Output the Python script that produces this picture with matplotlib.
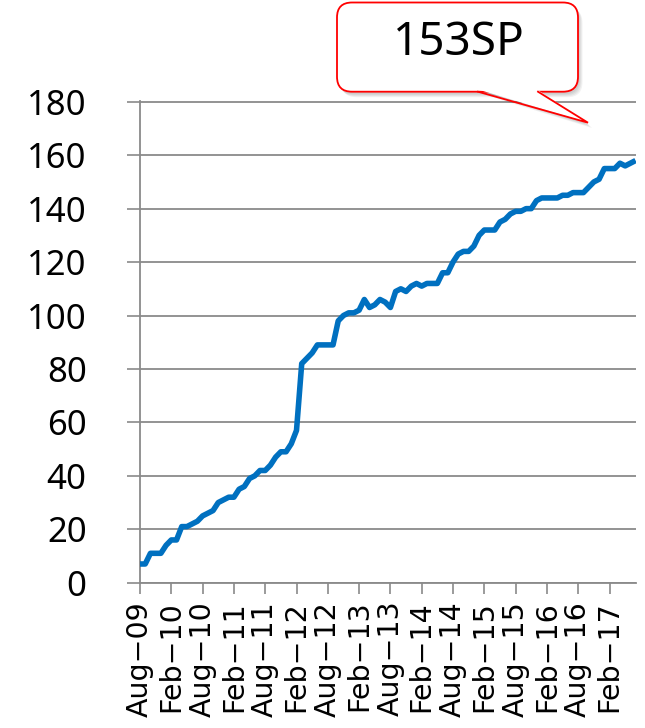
import matplotlib
matplotlib.use("Agg")
import matplotlib.pyplot as plt
from matplotlib.patches import FancyBboxPatch, Polygon
import numpy as np

# ---- data (monthly, Aug-09 .. Jul-17) ----
values = [7, 7, 11, 11, 11, 14, 16, 16, 21, 21,
          22, 23, 25, 26, 27, 30, 31, 32, 32, 35,
          36, 39, 40, 42, 42, 44, 47, 49, 49, 52,
          57, 82, 84, 86, 89, 89, 89, 89, 98, 100,
          101, 101, 102, 106, 103, 104, 106, 105, 103, 109,
          110, 109, 111, 112, 111, 112, 112, 112, 116, 116,
          120, 123, 124, 124, 126, 130, 132, 132, 132, 135,
          136, 138, 139, 139, 140, 140, 143, 144, 144, 144,
          144, 145, 145, 146, 146, 146, 148, 150, 151, 155,
          155, 155, 157, 156, 157, 158]
tick_labels = ["Aug\u221209", "Feb\u221210", "Aug\u221210", "Feb\u221211",
               "Aug\u221211", "Feb\u221212", "Aug\u221212", "Feb\u221213",
               "Aug\u221213", "Feb\u221214", "Aug\u221214", "Feb\u221215",
               "Aug\u221215", "Feb\u221216", "Aug\u221216", "Feb\u221217"]
y_ticks = [0, 20, 40, 60, 80, 100, 120, 140, 160, 180]
callout_text = "153SP"

months = np.arange(len(values))
tick_pos = np.arange(0, 6 * len(tick_labels), 6)

W, H = 645, 728
fig = plt.figure(figsize=(W / 100, H / 100), dpi=100)
fig.patch.set_facecolor("white")

ax = fig.add_axes([140 / W, 1 - 582.7 / H, 495.6 / W, 482 / H])
grid_c = "#8a8a8a"
ax.plot(months, values, color="#0070C0", lw=4.0, solid_joinstyle="round",
        solid_capstyle="butt", zorder=3)
ax.set_xlim(0, len(values) - 1)
ax.set_ylim(0, 180.4)
ax.set_yticks(y_ticks)
ax.set_yticklabels([str(v) for v in y_ticks], fontsize=25, family=["Noto Sans", "DejaVu Sans"])
ax.set_xticks(tick_pos)
ax.set_xticklabels(tick_labels, rotation=90, fontsize=20.5, family="DejaVu Sans")
ax.tick_params(axis="y", direction="out", length=9.4, width=1.2, color=grid_c, pad=29)
ax.tick_params(axis="x", direction="out", length=8, width=1.2, color=grid_c, pad=5)
ax.yaxis.grid(True, color=grid_c, lw=1.3)
ax.set_axisbelow(True)
for s in ["top", "right"]:
    ax.spines[s].set_visible(False)
for s in ["left", "bottom"]:
    ax.spines[s].set_color(grid_c)
    ax.spines[s].set_linewidth(1.3)

# ---- callout overlay (pixel coordinates) ----
ov = fig.add_axes([0, 0, 1, 1], zorder=10)
ov.set_xlim(0, W)
ov.set_ylim(H, 0)
ov.axis("off")
ov.patch.set_alpha(0)

x0, x1, y0, y1 = 337, 578, 2.5, 91.7
bl, br, tip = (478, y1), (538, y1), (588, 122.7)

# soft shadow
for i, a in enumerate([0.05, 0.05, 0.05, 0.05]):
    dx, dy = 1.5 + i, 2.5 + i
    ov.add_patch(FancyBboxPatch((x0 + dx, y0 + dy), x1 - x0, y1 - y0,
                                boxstyle="round,pad=0,rounding_size=15",
                                fc="black", ec="none", alpha=a))
    ov.add_patch(Polygon([(bl[0] + dx, bl[1] - 3 + dy), (br[0] + dx, br[1] - 3 + dy),
                          (tip[0] + dx, tip[1] + dy)], closed=True,
                         fc="black", ec="none", alpha=a))

ov.add_patch(FancyBboxPatch((x0, y0), x1 - x0, y1 - y0,
                            boxstyle="round,pad=0,rounding_size=15",
                            fc="white", ec="#ff0000", lw=1.3))
ov.add_patch(Polygon([(bl[0] + 0.8, bl[1] - 2), (br[0] - 0.8, br[1] - 2), tip],
                     closed=True, fc="white", ec="none"))
ov.plot([bl[0], tip[0], br[0]], [bl[1], tip[1], br[1]], color="#ff0000", lw=1.3,
        solid_joinstyle="miter")
ov.text(459, 43, callout_text, fontsize=33, family=["Noto Sans", "DejaVu Sans"],
        ha="center", va="center", color="black")

fig.savefig("out.png", dpi=100, facecolor="white")
